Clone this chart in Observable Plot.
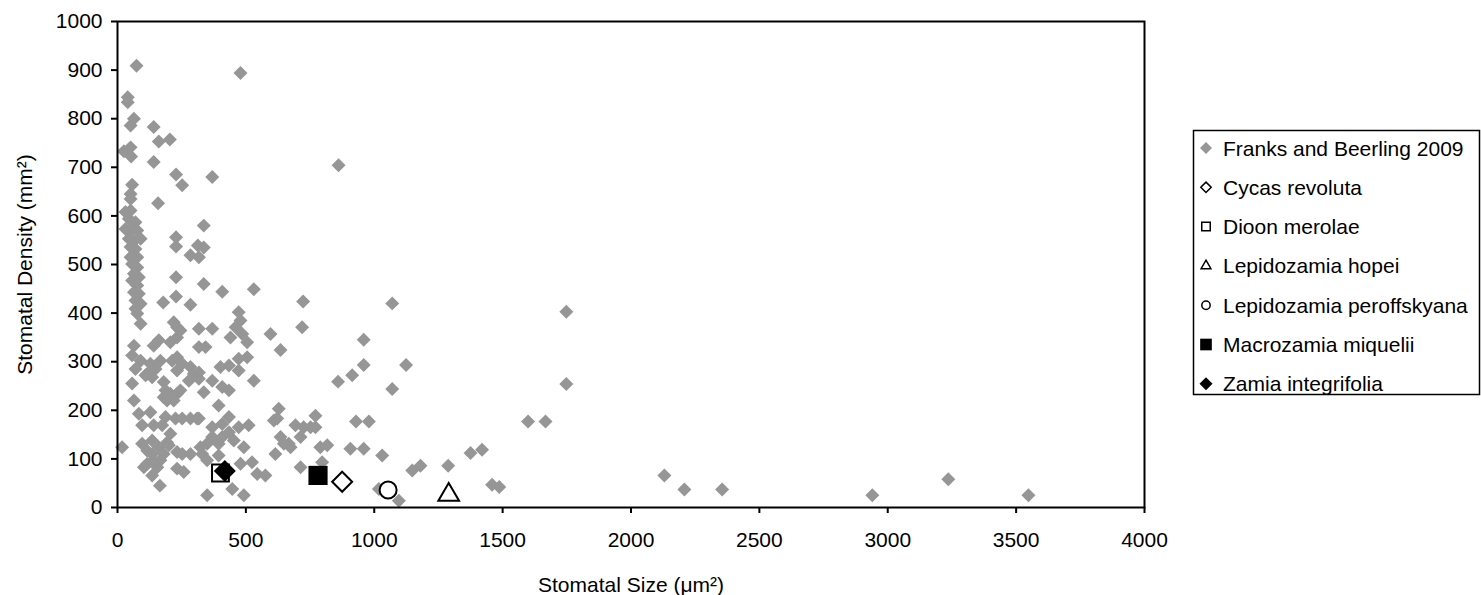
<!DOCTYPE html>
<html><head><meta charset="utf-8">
<script src="https://cdn.jsdelivr.net/npm/d3@7"></script>
<script src="https://cdn.jsdelivr.net/npm/@observablehq/plot@0.6"></script>
<style>
body{margin:0;background:#fff;font-family:"Liberation Sans",Arial,sans-serif;}
#wrap{position:relative;width:1481px;height:595px;overflow:hidden;background:#fff;}
#wrap svg{position:absolute;left:0;top:0;}
</style></head><body><div id="wrap"></div>
<script>
// Franks and Beerling 2009: stomatal size (µm²) and density (mm⁻²)
const franksSize = [74,479,40,40,64,51,141,161,204,25,51,53,141,228,252,369,57,51,51,158,861,
31,51,44,70,31,51,77,44,64,90,51,70,51,77,57,77,64,83,57,77,64,83,70,90,70,77,90,
336,228,228,313,336,284,317,228,178,228,284,336,408,531,723,1070,719,317,369,472,479,460,486,440,505,596,635,959,959,1124,859,914,1070,1748,1748,
64,57,90,70,109,141,161,206,232,245,219,232,128,148,167,116,135,213,232,252,232,284,297,278,317,180,187,180,206,232,245,219,193,57,64,83,128,96,141,174,187,206,193,226,252,284,310,
18,96,116,135,135,161,167,155,180,200,141,116,103,135,165,232,252,284,232,258,
317,343,401,434,472,472,505,317,369,336,408,434,531,394,317,369,408,434,369,408,434,472,511,453,492,394,349,323,330,349,394,479,524,544,576,447,492,349,
628,622,693,635,667,615,674,713,713,609,648,771,725,752,771,929,979,790,817,907,959,1031,797,1018,1096,1375,1420,1148,1180,1288,1459,1487,1599,1667,2130,2208,2355,2940,3236,3548];
const franksDensity = [909,894,844,834,800,786,783,753,757,733,741,722,711,685,663,680,664,645,635,626,704,
608,611,594,587,573,570,570,553,549,553,536,532,515,515,501,494,481,474,467,457,443,440,426,419,409,399,378,
580,556,537,539,535,519,515,474,422,434,417,460,444,449,424,420,371,368,368,402,385,371,357,350,340,357,324,345,293,293,259,272,244,403,254,
333,313,302,285,272,333,344,340,350,364,381,371,296,285,302,275,268,302,309,296,282,289,275,261,265,258,241,227,234,234,241,220,220,255,220,193,196,169,169,169,186,152,134,183,183,183,183,
124,131,117,138,110,124,97,83,110,128,97,90,83,66,45,114,110,110,80,73,
330,330,289,292,282,306,309,278,261,237,248,241,261,210,183,165,172,186,145,145,155,165,169,138,124,131,131,124,110,97,107,90,93,69,66,38,25,25,
203,183,169,145,131,110,124,145,83,179,131,189,165,165,165,177,177,124,128,121,121,107,93,38,14,112,119,76,86,86,47,42,177,177,66,37,37,25,58,25];

// Cycad species measured in this study
const speciesNames = ["Cycas revoluta","Dioon merolae","Lepidozamia hopei","Lepidozamia peroffskyana","Macrozamia miquelii","Zamia integrifolia"];
const speciesSize = [875, 401, 1290, 1054, 781, 418];
const speciesDensity = [53, 71, 26, 36, 66, 75];

const legendLabels = ["Franks and Beerling 2009", ...speciesNames];
const xTicks = [0,500,1000,1500,2000,2500,3000,3500,4000];
const yTicks = [0,100,200,300,400,500,600,700,800,900,1000];

const GRAY = "#969696";
const FONT = "'Liberation Sans', Arial, sans-serif";

// marker appearance per series
const markerStyle = {
  "Franks and Beerling 2009": {symbol:"diamond2", fill:GRAY, stroke:"none", r:6.3, lsize:92},
  "Cycas revoluta": {symbol:"diamond2", fill:"white", stroke:"black", r:9, lsize:69},
  "Dioon merolae": {symbol:"square", fill:"none", stroke:"black", r:9.5, lsize:72},
  "Lepidozamia hopei": {symbol:"triangle", fill:"white", stroke:"black", r:7.7, lsize:42},
  "Lepidozamia peroffskyana": {symbol:"circle", fill:"white", stroke:"black", r:8.5, lsize:55},
  "Macrozamia miquelii": {symbol:"square", fill:"black", stroke:"none", r:10.8, lsize:136},
  "Zamia integrifolia": {symbol:"diamond2", fill:"black", stroke:"none", r:9.9, lsize:108}
};

const franks = franksSize.map((x, i) => ({x, y: franksDensity[i]}));
const species = speciesNames.map((name, i) => ({name, x: speciesSize[i], y: speciesDensity[i]}));

const fs = markerStyle["Franks and Beerling 2009"];
const plain = d => String(d);
const marks = [
  Plot.dot(franks, {x:"x", y:"y", symbol:fs.symbol, r:fs.r, fill:fs.fill, stroke:"none"}),
  ...species.map(d => {
    const s = markerStyle[d.name];
    return Plot.dot([d], {x:"x", y:"y", symbol:s.symbol, r:s.r, fill:s.fill, stroke:s.stroke, strokeWidth:2});
  }),
  Plot.frame({stroke:"black", strokeWidth:2}),
  Plot.axisX({ticks:xTicks, tickFormat:plain, tickSize:6, tickPadding:19, strokeWidth:2,
    label:"Stomatal Size (μm²)", labelAnchor:"center", labelOffset:84, labelArrow:false}),
  Plot.axisY({ticks:yTicks, tickFormat:plain, tickSize:6, tickPadding:9, strokeWidth:2,
    label:"Stomatal Density (mm²)", labelAnchor:"center", labelOffset:100, labelArrow:false})
];

const chart = Plot.plot({
  width: 1481, height: 595,
  marginLeft: 117, marginRight: 337, marginTop: 21, marginBottom: 88,
  x: {domain:[0,4000]},
  y: {domain:[0,1000]},
  style: {fontFamily: FONT, fontSize: "21px", color: "black", background: "white", overflow: "visible"},
  marks
});
document.getElementById("wrap").appendChild(chart);

// Legend box on the right
const lg = d3.select("#wrap").append("svg")
  .attr("width", 1481).attr("height", 595)
  .style("pointer-events","none");
lg.append("rect").attr("x", 1193.5).attr("y", 130.5).attr("width", 286).attr("height", 264)
  .attr("fill","white").attr("stroke","black").attr("stroke-width",1.5);
const symMap = {diamond2: d3.symbolDiamond2, square: d3.symbolSquare, triangle: d3.symbolTriangle, circle: d3.symbolCircle};
legendLabels.forEach((lab, i) => {
  const s = markerStyle[lab];
  const cy = 148 + i * 39.3;
  lg.append("path")
    .attr("d", d3.symbol(symMap[s.symbol], s.lsize)())
    .attr("transform", `translate(1206,${cy})`)
    .attr("fill", s.fill).attr("stroke", s.stroke).attr("stroke-width", 1.5);
  lg.append("text").attr("x", 1223).attr("y", cy + 7.5)
    .attr("font-family", FONT).attr("font-size", 21).attr("fill","black")
    .text(lab);
});
</script></body></html>
